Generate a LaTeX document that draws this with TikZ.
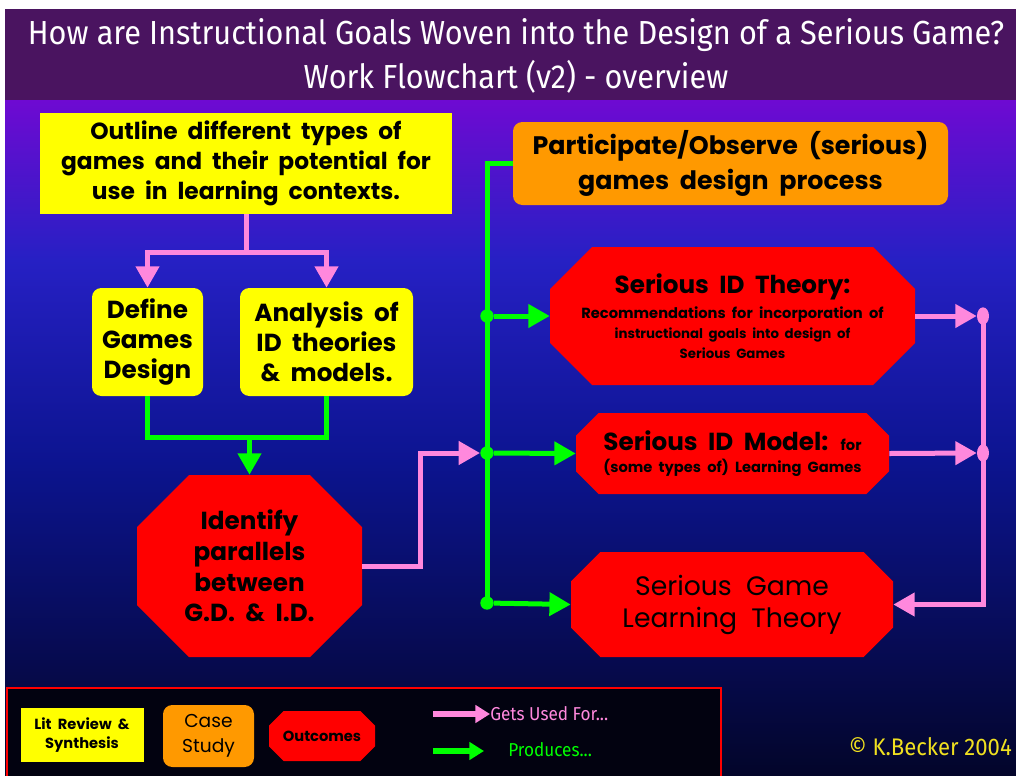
\documentclass[tikz,border=0pt]{standalone}
\usepackage{fontspec}
\setmainfont{Poppins}[WordSpace=2]
\newfontfamily\headfont{Fira Sans}[FakeStretch=0.92]
\usetikzlibrary{arrows.meta,positioning,shapes.geometric,calc}

\definecolor{lityellow}{HTML}{FFFF00}
\definecolor{caseorange}{HTML}{FF9900}
\definecolor{outred}{HTML}{FF0000}
\definecolor{usepink}{HTML}{FF88DD}
\definecolor{prodgreen}{HTML}{00FF00}
\definecolor{titlepurple}{HTML}{4A1460}
\definecolor{bgviolet}{HTML}{6E0AD2}
\definecolor{bgblue}{HTML}{2620C4}
\definecolor{bgnavy}{HTML}{0C1490}
\definecolor{bgdeep}{HTML}{03052A}
\definecolor{keyblack}{HTML}{020210}
\definecolor{signyellow}{HTML}{F0E020}

\begin{document}
\begin{tikzpicture}[
        x=0.75pt, y=-0.75pt,
        litbox/.style={
            fill=lityellow,
            text=black,
            align=center,
            inner sep=2pt
        },
        casebox/.style={
            fill=caseorange,
            text=black,
            rounded corners=7pt,
            align=center,
            inner sep=2pt
        },
        % red octagon, #1 = size of the cut corners
        octbox/.style={
            text=black,
            align=center,
            inner sep=2pt,
            path picture={
                \fill[outred]
                    ([xshift=#1]path picture bounding box.north west)
                    -- ([xshift=-#1]path picture bounding box.north east)
                    -- ([yshift=-#1]path picture bounding box.north east)
                    -- ([yshift=#1]path picture bounding box.south east)
                    -- ([xshift=-#1]path picture bounding box.south east)
                    -- ([xshift=#1]path picture bounding box.south west)
                    -- ([yshift=#1]path picture bounding box.south west)
                    -- ([yshift=-#1]path picture bounding box.north west)
                    -- cycle;
            }
        },
        useline/.style={draw=usepink, line width=3.75pt},
        prodline/.style={draw=prodgreen, line width=3.75pt},
        usearrow/.style={useline, -{Triangle[length=16pt,width=17pt]}},
        prodarrow/.style={prodline, -{Triangle[length=16pt,width=17pt]}},
        keyarrow/.style={line width=4.5pt, -{Triangle[length=11pt,width=13pt]}},
        proddot/.style={circle, fill=prodgreen, inner sep=0pt, minimum size=10pt},
        usedot/.style={ellipse, fill=usepink, inner sep=0pt, minimum width=9pt, minimum height=13pt},
        titletext/.style={text=white, align=center, font=\headfont\fontsize{25}{33}\selectfont}
    ]

        % page and background
        \useasboundingbox (0,0) rectangle (1016,775);
        \fill[white] (0,0) rectangle (1016,775);
        \fill[titlepurple] (5,9) rectangle (1016,101);
        \shade[top color=bgviolet, bottom color=bgblue] (5,100) rectangle (1016,261);
        \shade[top color=bgblue, bottom color=bgnavy] (5,260) rectangle (1016,461);
        \shade[top color=bgnavy, bottom color=bgdeep] (5,460) rectangle (1016,775);

        \node[titletext] (title) at (516,56) {How are Instructional Goals Woven into the Design of a Serious Game?\\Work Flowchart (v2) - overview};

        % left column
        \node[litbox, minimum width=309pt, minimum height=75.75pt,
              font=\fontsize{17.5}{22.5}\selectfont\bfseries] (outline) at (246,163.5)
              {Outline different types of\\games and their potential for\\use in learning contexts.};
        \node[litbox, rounded corners=7pt, minimum width=83.25pt, minimum height=81pt,
              font=\fontsize{18.5}{22.5}\selectfont\bfseries] (define) at (147.5,342)
              {Define\\Games\\Design};
        \node[litbox, rounded corners=7pt, minimum width=129.75pt, minimum height=81pt,
              font=\fontsize{18.5}{22.5}\selectfont\bfseries] (analysis) at (326.5,342)
              {Analysis of\\ID theories\\\& models.};
        \node[octbox=39pt, minimum width=168.75pt, minimum height=136.5pt,
              font=\fontsize{18.5}{23}\selectfont\bfseries] (identify) at (249.5,566)
              {Identify\\parallels\\between\\G.D. \& I.D.};

        % right column
        \node[casebox, minimum width=326.25pt, minimum height=62.25pt,
              font=\fontsize{19}{26}\selectfont\bfseries] (observe) at (730.5,163.5)
              {Participate/Observe (serious)\\games design process};
        \node[octbox=31.5pt, minimum width=273.75pt, minimum height=103.5pt,
              font=\bfseries] (theory) at (732.5,316)
              {\fontsize{18.5}{24}\selectfont Serious ID Theory:\\[4pt]
               \fontsize{11}{15}\selectfont Recommendations for incorporation of\\[3pt]
               instructional goals into design of\\[3pt]Serious Games};
        \node[octbox=17pt, minimum width=234.75pt, minimum height=60.75pt,
              font=\bfseries] (model) at (732.5,453.5)
              {\fontsize{18.5}{20}\selectfont Serious ID Model: {\fontsize{11}{12}\selectfont for}\\[5pt]
               \fontsize{11}{14}\selectfont (some types of) Learning Games};
        \node[octbox=22pt, minimum width=241.5pt, minimum height=78.75pt,
              font=\fontsize{20}{24}\selectfont] (learn) at (732,604.5)
              {Serious Game\\Learning Theory};

        % junction dots
        \node[proddot] (jtheory) at (487,316) {};
        \node[proddot] (jmod) at (487,453) {};
        \node[proddot] (jlearn) at (487,603) {};
        \node[usedot] (ptheory) at (983,316) {};
        \node[usedot] (pmod) at (983,453) {};

        % gets used for
        \draw[usearrow] (outline.south) -- ++(0,38) -| (define.north);
        \draw[usearrow] (outline.south) -- ++(0,38) -| (analysis.north);
        \draw[usearrow] (identify.east) -- ++(58,0) |- (jmod.west);
        \draw[usearrow] (theory.east) -- (ptheory.west);
        \draw[usearrow] (model.east) -- (pmod.west);
        \draw[usearrow] (ptheory.center) |- (learn.east);

        % produces
        \draw[prodline] (define.south) -- ++(0,41) coordinate (gdfork) -| (analysis.south);
        \draw[prodarrow] (gdfork -| identify.north) -- (identify.north);
        \draw[prodline] (observe.west) -| (jlearn.center);
        \draw[prodarrow] (jtheory) -- (theory.west);
        \draw[prodarrow] (jmod) -- (model.west);
        \draw[prodarrow] (jlearn) -- (learn.west);

        % key
        \draw[draw=outred, line width=1.5pt, fill=keyblack] (7,688) rectangle (721,778);
        \node[litbox, minimum width=92.25pt, minimum height=40.5pt,
              font=\fontsize{11}{14.5}\selectfont\bfseries] (keylit) at (82,735)
              {Lit Review \&\\Synthesis};
        \node[casebox, minimum width=68.25pt, minimum height=46.5pt,
              font=\fontsize{14}{18.5}\selectfont] (keycase) at (208.5,736)
              {Case\\Study};
        \node[octbox=11pt, minimum width=79.5pt, minimum height=37.5pt,
              font=\fontsize{11}{13}\selectfont\bfseries] (keyout) at (322,736)
              {Outcomes};

        \node[anchor=west, inner sep=0pt, text=usepink,
              font=\headfont\fontsize{14}{16}\selectfont] (keyuse) at (490,714) {Gets Used For...};
        \node[anchor=west, inner sep=0pt, text=prodgreen,
              font=\headfont\fontsize{14}{16}\selectfont] (keyprod) at (508,750) {Produces...};
        \coordinate (usetail) at (433,714);
        \coordinate (prodtail) at (433,751);
        \coordinate (prodtip) at (484,751);
        \draw[keyarrow, draw=usepink] (usetail) -- (keyuse.west);
        \draw[keyarrow, draw=prodgreen] (prodtail) -- (prodtip);

        \node[anchor=east, inner sep=0pt, text=signyellow,
              font=\headfont\fontsize{18}{20}\selectfont] (sign) at (1012,747) {\textcopyright\ K.Becker 2004};

    \end{tikzpicture}
\end{document}
